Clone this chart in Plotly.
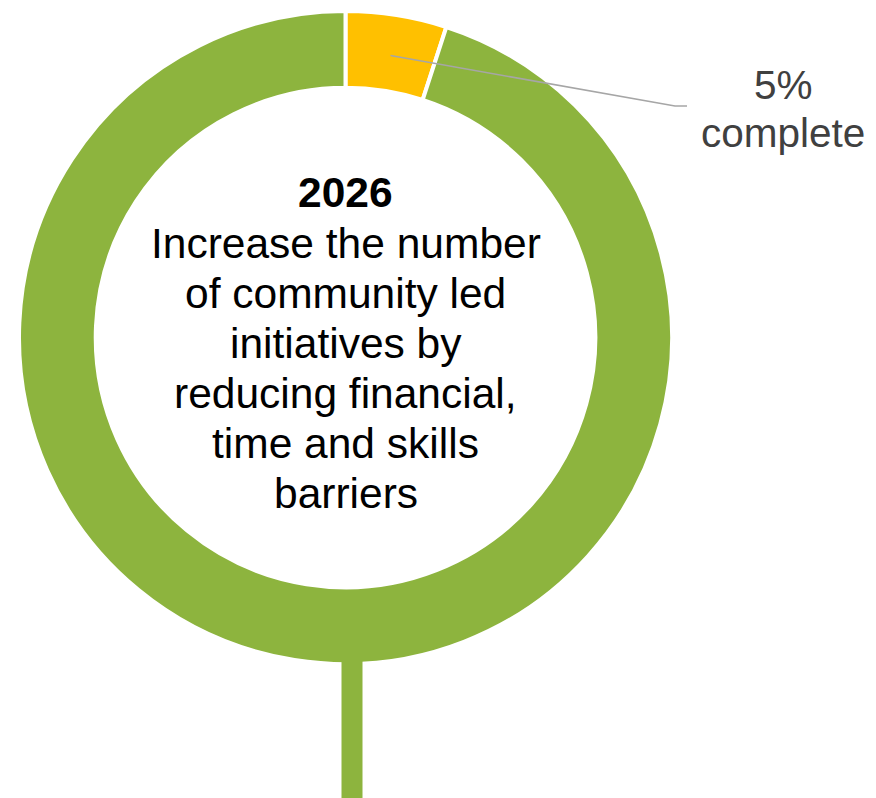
import plotly.graph_objects as go

# Progress towards the 2026 goal
labels = ["Complete", "Remaining"]
values = [5, 95]
colors = ["#FFC000", "#8DB43E"]

goal_year = "2026"
goal_lines = [
    "Increase the number",
    "of community led",
    "initiatives by",
    "reducing financial,",
    "time and skills",
    "barriers",
]
progress_label = ["5%", "complete"]

W, H = 876, 798


def px(x):
    return x / W


def py(y):
    # pixel row from the top -> paper y
    return 1 - y / H


cx, cy, R = 345.5, 337.5, 326.5

fig = go.Figure()
fig.add_trace(go.Pie(
    labels=labels,
    values=values,
    hole=0.765,
    sort=False,
    direction="clockwise",
    rotation=0,
    marker=dict(colors=colors, line=dict(color="white", width=4)),
    textinfo="none",
    hoverinfo="skip",
    showlegend=False,
    domain=dict(x=[px(cx - R), px(cx + R)], y=[py(cy + R), py(cy - R)]),
))

# trunk under the ring
fig.add_shape(type="rect", xref="paper", yref="paper", layer="above",
              x0=px(341.5), x1=px(362.5), y0=py(800), y1=py(655),
              fillcolor=colors[1], line=dict(width=0))

# leader line to the progress label
fig.add_shape(type="path", xref="paper", yref="paper", layer="above",
              path=f"M {px(390.5)} {py(55.5)} L {px(675)} {py(106)} L {px(687)} {py(106)}",
              line=dict(color="#A6A6A6", width=1.6))

font_family = "Liberation Sans, Arial, sans-serif"
fs = 42.5
baselines = [206, 257, 307, 357, 407, 457, 507]
texts = [f"<b>{goal_year}</b>"] + goal_lines
for t, b in zip(texts, baselines):
    fig.add_annotation(xref="paper", yref="paper", x=px(345.5), y=py(b - 0.31 * fs),
                       text=t, showarrow=False, xanchor="center", yanchor="middle",
                       font=dict(family=font_family, size=fs, color="#000000"))

pfs = 40.5
for t, b in zip(progress_label, [98, 146]):
    fig.add_annotation(xref="paper", yref="paper", x=px(783), y=py(b - 0.31 * pfs),
                       text=t, showarrow=False, xanchor="center", yanchor="middle",
                       font=dict(family=font_family, size=pfs, color="#404040"))

fig.update_layout(
    width=W, height=H,
    margin=dict(l=0, r=0, t=0, b=0),
    paper_bgcolor="white",
    plot_bgcolor="white",
)

fig.write_html("out.html")
